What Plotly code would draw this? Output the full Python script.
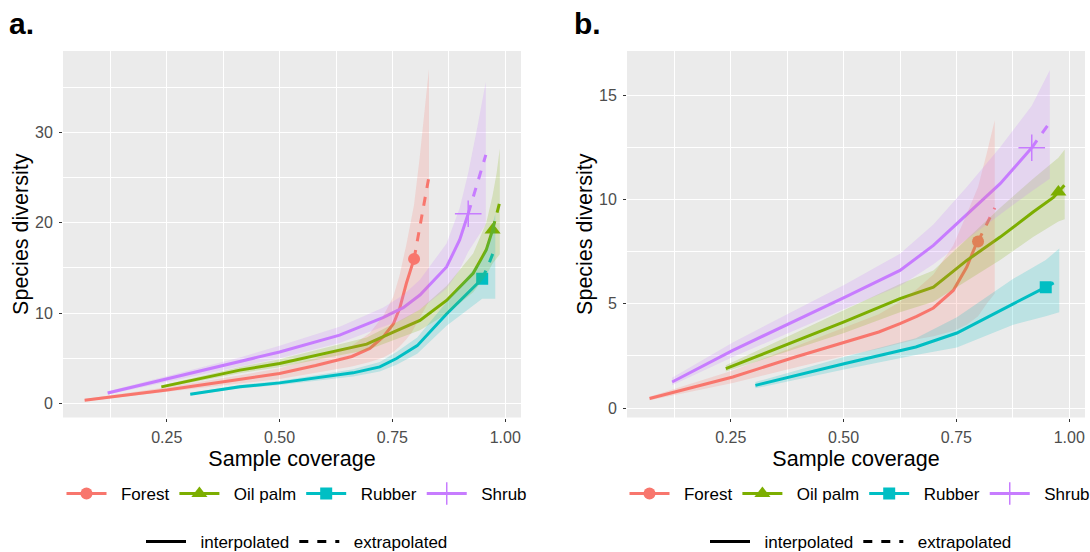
import plotly.graph_objects as go

FONT = "Liberation Sans, Arial, sans-serif"

GROUPS = ["Forest", "Oil palm", "Rubber", "Shrub"]
COLORS = ["#F8766D", "#7CAE00", "#00BFC4", "#C77CFF"]
FILLS = ["rgba(248,118,109,0.2)", "rgba(124,174,0,0.2)", "rgba(0,191,196,0.2)", "rgba(199,124,255,0.2)"]
SYMBOLS = ["circle", "triangle-up", "square", "cross-thin"]
SIZES = [12, 14, 12, 19]

# ---------------- Panel a ----------------
A_FOREST_X_INT = [0.068, 0.25, 0.41, 0.50, 0.58, 0.66, 0.70, 0.73, 0.752, 0.766, 0.781, 0.792, 0.798]
A_FOREST_Y_INT = [0.37, 1.5, 2.66, 3.32, 4.2, 5.2, 6.1, 7.4, 8.8, 10.5, 13.3, 15.1, 16.0]
A_FOREST_X_EXT = [0.798, 0.81, 0.82, 0.831]
A_FOREST_Y_EXT = [16.0, 19.3, 22.2, 25.1]
A_FOREST_LO = [0.25, 1.25, 2.2, 2.7, 3.4, 4.1, 4.6, 5.1, 5.7, 6.3, 7.1, 7.8, 8.2, 9.3, 10.3, 11.3]
A_FOREST_HI = [0.5, 1.8, 3.1, 3.9, 5.0, 6.4, 7.8, 9.7, 11.8, 14.2, 17.6, 20.4, 22.0, 27.0, 31.5, 37.0]

A_OIL_X_INT = [0.238, 0.412, 0.50, 0.619, 0.693, 0.752, 0.811, 0.870, 0.929, 0.958, 0.972]
A_OIL_Y_INT = [1.84, 3.69, 4.43, 5.8, 6.57, 7.9, 9.2, 11.4, 14.4, 17.0, 19.2]
A_OIL_X_EXT = [0.972, 0.981, 0.988]
A_OIL_Y_EXT = [19.2, 20.8, 22.3]
A_OIL_LO = [1.7, 3.35, 4.0, 5.2, 5.9, 7.0, 8.1, 9.9, 12.3, 14.2, 15.5, 16.0, 16.5]
A_OIL_HI = [2.0, 4.05, 4.9, 6.4, 7.3, 8.8, 10.4, 13.0, 16.6, 20.0, 23.0, 25.5, 28.2]

A_RUB_X_INT = [0.302, 0.412, 0.50, 0.663, 0.722, 0.759, 0.805, 0.870, 0.949]
A_RUB_Y_INT = [1.03, 1.84, 2.28, 3.39, 4.05, 4.98, 6.4, 9.9, 13.8]
A_RUB_X_EXT = [0.949, 0.965, 0.978]
A_RUB_Y_EXT = [13.8, 15.6, 17.3]
A_RUB_LO = [0.9, 1.65, 2.05, 3.0, 3.55, 4.3, 5.5, 8.6, 11.6, 11.6, 11.6]
A_RUB_HI = [1.15, 2.05, 2.5, 3.8, 4.6, 5.7, 7.3, 11.2, 16.0, 18.5, 21.0]

A_SHR_X_INT = [0.119, 0.412, 0.50, 0.633, 0.729, 0.774, 0.811, 0.870, 0.899, 0.918]
A_SHR_Y_INT = [1.17, 4.6, 5.7, 7.56, 9.5, 10.6, 12.0, 15.1, 18.1, 21.0]
A_SHR_X_EXT = [0.918, 0.938, 0.957]
A_SHR_Y_EXT = [21.0, 24.3, 27.5]
A_SHR_LO = [1.0, 4.1, 5.0, 6.7, 8.5, 9.3, 10.4, 12.7, 14.8, 16.8, 18.3, 19.8]
A_SHR_HI = [1.35, 5.1, 6.4, 8.5, 10.6, 12.0, 13.7, 17.7, 21.6, 25.5, 30.5, 35.6]

# ---------------- Panel b ----------------
B_FOREST_X_INT = [0.070, 0.2545, 0.393, 0.501, 0.578, 0.625, 0.662, 0.699, 0.743, 0.773, 0.791, 0.798]
B_FOREST_Y_INT = [0.46, 1.49, 2.45, 3.17, 3.65, 4.05, 4.4, 4.8, 5.64, 6.76, 7.72, 7.99]
B_FOREST_X_EXT = [0.798, 0.817, 0.835]
B_FOREST_Y_EXT = [7.99, 8.8, 9.6]
B_FOREST_LO = [0.38, 1.2, 1.95, 2.5, 2.85, 3.1, 3.3, 3.45, 3.7, 4.0, 4.3, 4.4, 5.0, 5.5]
B_FOREST_HI = [0.55, 1.8, 2.95, 3.85, 4.5, 5.1, 5.7, 6.4, 7.8, 9.3, 10.3, 10.6, 12.2, 13.8]

B_OIL_X_INT = [0.239, 0.501, 0.625, 0.699, 0.773, 0.847, 0.920, 0.965, 0.976]
B_OIL_Y_INT = [1.89, 4.13, 5.25, 5.8, 7.08, 8.2, 9.4, 10.1, 10.36]
B_OIL_X_EXT = [0.976, 0.99]
B_OIL_Y_EXT = [10.36, 10.7]
B_OIL_LO = [1.75, 3.6, 4.6, 5.1, 6.1, 7.1, 8.2, 8.8, 8.95, 9.05]
B_OIL_HI = [2.05, 4.7, 5.95, 6.6, 8.1, 9.6, 11.0, 11.8, 12.0, 12.4]

B_RUB_X_INT = [0.3045, 0.501, 0.660, 0.751, 0.876, 0.948]
B_RUB_Y_INT = [1.09, 2.13, 2.93, 3.6, 5.0, 5.8]
B_RUB_X_EXT = [0.948, 0.978]
B_RUB_Y_EXT = [5.8, 6.15]
B_RUB_LO = [0.95, 1.85, 2.55, 2.9, 4.0, 4.4, 4.6]
B_RUB_HI = [1.25, 2.45, 3.35, 4.35, 6.2, 7.1, 7.65]

B_SHR_X_INT = [0.120, 0.2545, 0.501, 0.625, 0.699, 0.773, 0.847, 0.917]
B_SHR_Y_INT = [1.25, 2.77, 5.3, 6.6, 7.8, 9.3, 10.76, 12.48]
B_SHR_X_EXT = [0.917, 0.957]
B_SHR_Y_EXT = [12.48, 13.7]
B_SHR_LO = [1.1, 2.45, 4.75, 5.85, 6.9, 8.1, 9.3, 10.4, 11.0]
B_SHR_HI = [1.45, 3.15, 5.9, 7.4, 8.8, 10.6, 12.5, 14.5, 16.2]

X_TICKS = [0.25, 0.50, 0.75, 1.00]
X_TICKTEXT = ["0.25", "0.50", "0.75", "1.00"]
A_Y_TICKS = [0, 10, 20, 30]
B_Y_TICKS = [0, 5, 10, 15]
LINE_TYPES = ["interpolated", "extrapolated"]
DASHES = ["solid", "dash"]

PANELS = {
    "a": [
        (A_FOREST_X_INT, A_FOREST_Y_INT, A_FOREST_X_EXT, A_FOREST_Y_EXT, A_FOREST_LO, A_FOREST_HI),
        (A_OIL_X_INT, A_OIL_Y_INT, A_OIL_X_EXT, A_OIL_Y_EXT, A_OIL_LO, A_OIL_HI),
        (A_RUB_X_INT, A_RUB_Y_INT, A_RUB_X_EXT, A_RUB_Y_EXT, A_RUB_LO, A_RUB_HI),
        (A_SHR_X_INT, A_SHR_Y_INT, A_SHR_X_EXT, A_SHR_Y_EXT, A_SHR_LO, A_SHR_HI),
    ],
    "b": [
        (B_FOREST_X_INT, B_FOREST_Y_INT, B_FOREST_X_EXT, B_FOREST_Y_EXT, B_FOREST_LO, B_FOREST_HI),
        (B_OIL_X_INT, B_OIL_Y_INT, B_OIL_X_EXT, B_OIL_Y_EXT, B_OIL_LO, B_OIL_HI),
        (B_RUB_X_INT, B_RUB_Y_INT, B_RUB_X_EXT, B_RUB_Y_EXT, B_RUB_LO, B_RUB_HI),
        (B_SHR_X_INT, B_SHR_Y_INT, B_SHR_X_EXT, B_SHR_Y_EXT, B_SHR_LO, B_SHR_HI),
    ],
}

NBSP = "\u00a0\u00a0"

fig = go.Figure()

for key, xa, ya, leg1, leg2 in [("a", "x", "y", "legend", "legend2"),
                                ("b", "x2", "y2", "legend3", "legend4")]:
    data = PANELS[key]
    # observed points (legend entries for the groups)
    for i, (xi, yi, xe, ye, lo, hi) in enumerate(data):
        marker = dict(symbol=SYMBOLS[i], size=SIZES[i], color=COLORS[i],
                      line=dict(width=1.5 if SYMBOLS[i] == "cross-thin" else 0, color=COLORS[i]))
        fig.add_trace(go.Scatter(
            x=[xi[-1]], y=[yi[-1]], mode="lines+markers", name=NBSP + GROUPS[i],
            marker=marker, line=dict(color=COLORS[i], width=3),
            xaxis=xa, yaxis=ya, legend=leg1, showlegend=True, hoverinfo="skip"))
    # interpolated and extrapolated curves
    for i, (xi, yi, xe, ye, lo, hi) in enumerate(data):
        fig.add_trace(go.Scatter(x=xi, y=yi, mode="lines", line=dict(color=COLORS[i], width=3),
                                 xaxis=xa, yaxis=ya, showlegend=False, hoverinfo="skip"))
        fig.add_trace(go.Scatter(x=xe, y=ye, mode="lines",
                                 line=dict(color=COLORS[i], width=3, dash="dash"),
                                 xaxis=xa, yaxis=ya, showlegend=False, hoverinfo="skip"))
    # confidence ribbons
    for i, (xi, yi, xe, ye, lo, hi) in enumerate(data):
        xs = list(xi) + list(xe[1:])
        fig.add_trace(go.Scatter(x=xs + xs[::-1], y=list(hi) + list(lo)[::-1],
                                 mode="lines", fill="toself", fillcolor=FILLS[i],
                                 line=dict(width=0, color=FILLS[i]),
                                 xaxis=xa, yaxis=ya, showlegend=False, hoverinfo="skip"))
    # line type legend
    for name, dash in zip(LINE_TYPES, DASHES):
        fig.add_trace(go.Scatter(x=[None], y=[None], mode="lines", name=NBSP + name,
                                 line=dict(color="black", width=3, dash=dash),
                                 xaxis=xa, yaxis=ya, legend=leg2, showlegend=True))

W, H = 1090, 552


def px(v):
    return v / W


def py(v):
    return 1 - v / H


XD_A = [px(63), px(521)]
XD_B = [px(627), px(1085)]
YD = [py(417.5), py(51)]

axis_common = dict(
    showgrid=True, gridcolor="white", gridwidth=1.2, zeroline=False,
    ticks="outside", ticklen=3, tickwidth=1, tickcolor="#333333",
    tickfont=dict(family=FONT, size=16, color="#4D4D4D"),
    showline=False, automargin=False,
    title_font=dict(family=FONT, size=21.5, color="black"),
)

x_common = dict(axis_common, range=[0.020, 1.035], tickvals=X_TICKS, ticktext=X_TICKTEXT,
                ticklabelstandoff=2,
                minor=dict(dtick=0.125, tick0=0, showgrid=True, gridcolor="white", gridwidth=0.5, ticks=""),
                title_text="Sample coverage", title_standoff=6)

legend_common = dict(orientation="h", xanchor="center", yanchor="middle",
                     font=dict(family=FONT, size=17, color="black"),
                     bgcolor="rgba(0,0,0,0)", itemwidth=40, itemsizing="trace",
                     traceorder="normal")

fig.update_layout(
    width=W, height=H,
    margin=dict(l=0, r=0, t=0, b=0, autoexpand=False),
    paper_bgcolor="white", plot_bgcolor="#EBEBEB",
    font=dict(family=FONT),
    xaxis=dict(x_common, domain=XD_A, anchor="y"),
    xaxis2=dict(x_common, domain=XD_B, anchor="y2"),
    yaxis=dict(axis_common, domain=YD, anchor="x", range=[-1.55, 39.0], tickvals=A_Y_TICKS,
               ticklabelstandoff=3,
               minor=dict(dtick=5, tick0=0, showgrid=True, gridcolor="white", gridwidth=0.5, ticks=""),
               title_text="Species diversity", title_standoff=0),
    yaxis2=dict(axis_common, domain=YD, anchor="x2", range=[-0.45, 17.12], tickvals=B_Y_TICKS,
                ticklabelstandoff=3,
                minor=dict(dtick=2.5, tick0=0, showgrid=True, gridcolor="white", gridwidth=0.5, ticks=""),
                title_text="Species diversity", title_standoff=0),
    legend=dict(legend_common, x=px(297), y=py(494)),
    legend2=dict(legend_common, x=px(297), y=py(542)),
    legend3=dict(legend_common, x=px(860), y=py(494)),
    legend4=dict(legend_common, x=px(861), y=py(542)),
    showlegend=True,
    annotations=[
        dict(text="<b>a.</b>", x=px(7), y=py(24), xref="paper", yref="paper",
             xanchor="left", yanchor="middle", showarrow=False,
             font=dict(family=FONT, size=30, color="black")),
        dict(text="<b>b.</b>", x=px(572), y=py(24), xref="paper", yref="paper",
             xanchor="left", yanchor="middle", showarrow=False,
             font=dict(family=FONT, size=30, color="black")),
    ],
)

# remove the default 8px page margin so the figure sits at the window's top-left corner
fig.write_html("out.html", config={"displayModeBar": False},
               post_script="document.body.style.margin='0px';")
